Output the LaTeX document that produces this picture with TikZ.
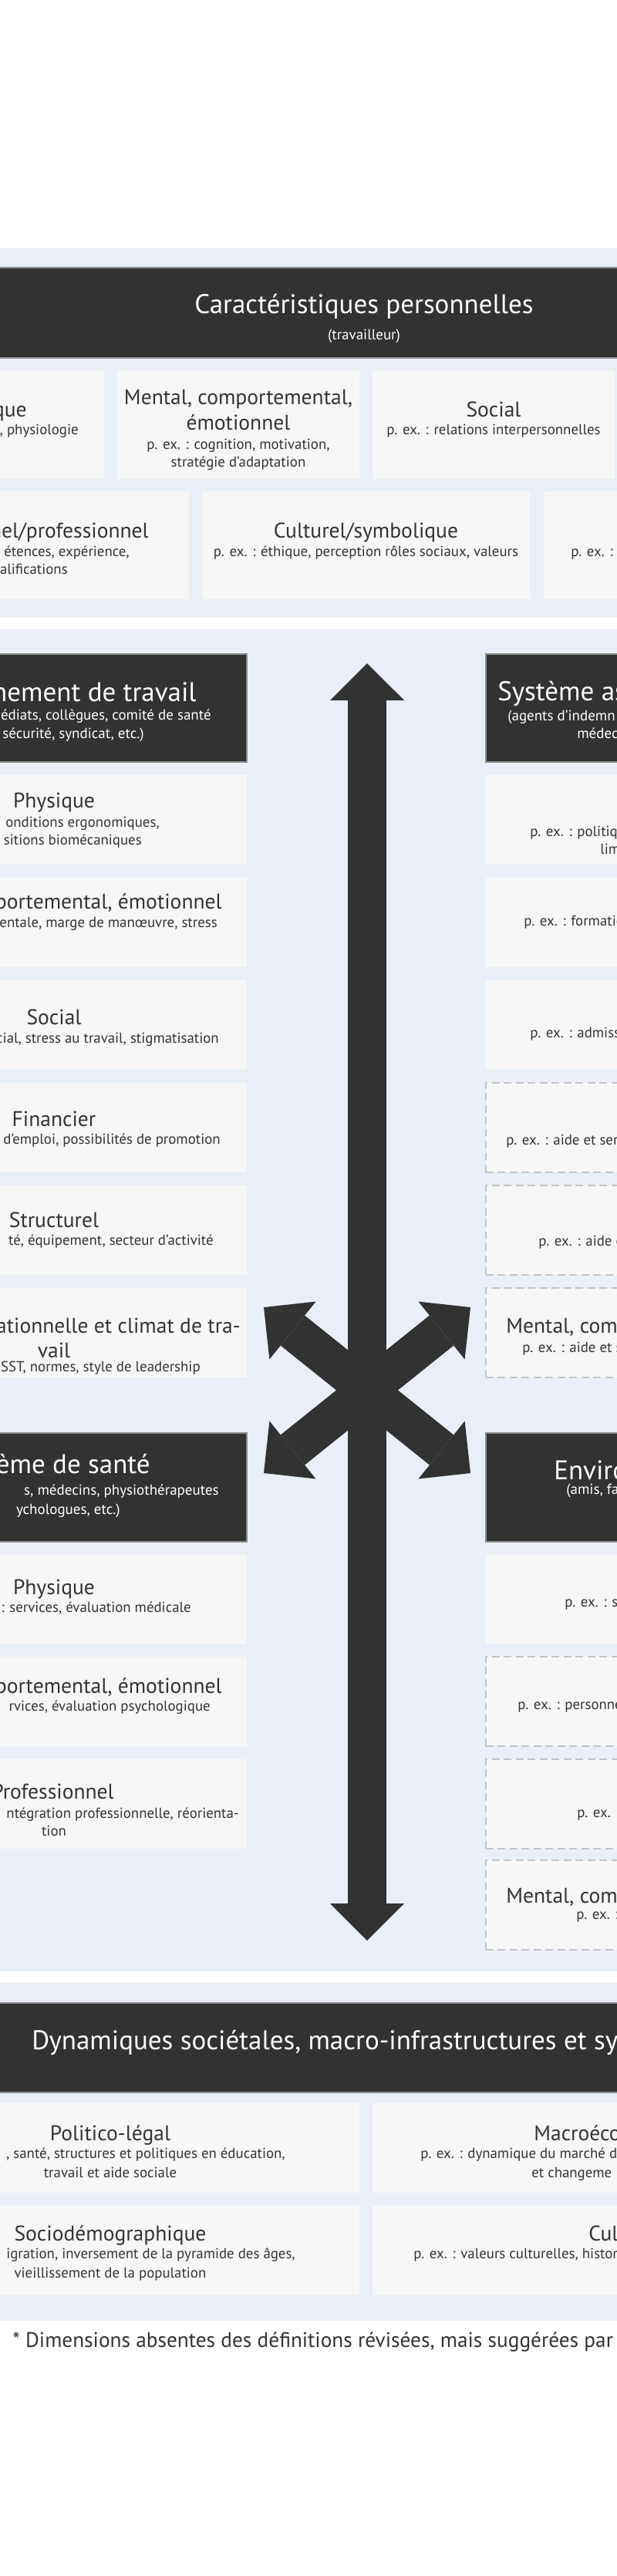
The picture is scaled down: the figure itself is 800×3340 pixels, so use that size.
\documentclass[tikz,border=0pt]{standalone}
\usepackage{fontspec}
\setmainfont{PT Sans}
\usetikzlibrary{arrows.meta}
\newlength{\pxu}\setlength{\pxu}{0.025cm}
\definecolor{panelbg}{HTML}{E9EEF7}
\definecolor{boxbg}{HTML}{F7F7F7}
\definecolor{headbg}{HTML}{323232}
\definecolor{inkgray}{HTML}{333333}
\definecolor{dashgray}{HTML}{C4C4C4}
\tikzstyle{panel}=[fill=panelbg]
\tikzstyle{dimbox}=[fill=boxbg,inner sep=0pt,outer sep=0pt]
\tikzstyle{headbox}=[fill=headbg,draw=black!45,line width=0.8pt,inner sep=0pt]
\tikzstyle{newdim}=[draw=dashgray,line width=1.1pt,dash pattern=on 7pt off 4pt]
\tikzstyle{topbox}=[dimbox,minimum width=314\pxu,minimum height=141\pxu]
\tikzstyle{midbox}=[dimbox,minimum width=425\pxu,minimum height=140\pxu]
\tikzstyle{colbox}=[dimbox,minimum width=500\pxu,minimum height=116\pxu]
\tikzstyle{colhead}=[headbox,minimum width=500\pxu,minimum height=140\pxu]
\tikzstyle{socbox}=[dimbox,minimum width=646\pxu,minimum height=116\pxu]
\tikzstyle{htl}=[text=white,inner sep=0pt,font=\fontsize{24.9}{30}\selectfont]
\tikzstyle{hsub}=[text=white,inner sep=0pt,font=\fontsize{13.5}{17}\selectfont]
\tikzstyle{ttl}=[text=inkgray,inner sep=0pt,font=\fontsize{19.6}{23.5}\selectfont]
\tikzstyle{txt}=[text=inkgray,inner sep=0pt,font=\fontsize{13.4}{16.7}\selectfont]
\tikzstyle{mainarrow}=[draw=headbg,line width=35.57pt,
  {Triangle[length=34.14pt,width=68.29pt,line width=0pt]}-{Triangle[length=34.14pt,width=68.29pt,line width=0pt]}]

\begin{document}
\begin{tikzpicture}[x=0.025cm,y=-0.025cm]
\clip (0,0) rectangle (800,3340);
\fill[white] (0,0) rectangle (800,3340);

% background bands
\fill[panel] (-10,322) rectangle (810,800);
\fill[panel] (-10,816) rectangle (810,2556);
\fill[panel] (-10,2571) rectangle (810,3009);

% personal characteristics
\node[headbox,minimum width=820\pxu,minimum height=117\pxu] (pers) at (400,405.5) {};
\node[htl,anchor=base] (perst) at (472,406) {Caractéristiques personnelles};
\node[hsub,anchor=base] (perss) at (472,440) {(travailleur)};

\node[topbox] (pc1) at (-22,550.5) {};
\node[topbox] (pc2) at (309,550.5) {};
\node[topbox] (pc3) at (640,550.5) {};
\node[ttl,anchor=base east] (pc1a) at (35,540) {que};
\node[txt,anchor=base east] (pc1b) at (102,563) {, physiologie};
\node[ttl,anchor=base] (pc2a) at (309,524) {Mental, comportemental,};
\node[ttl,anchor=base] (pc2b) at (309,557) {émotionnel};
\node[txt,anchor=base] (pc2c) at (309,582) {p. ex. : cognition, motivation,};
\node[txt,anchor=base] (pc2d) at (309,605) {stratégie d’adaptation};
\node[ttl,anchor=base] (pc3a) at (640,540) {Social};
\node[txt,anchor=base] (pc3b) at (640,563) {p. ex. : relations interpersonnelles};

\node[midbox] (pd1) at (32.5,707) {};
\node[midbox] (pd2) at (474.5,707) {};
\node[midbox] (pd3) at (917.5,707) {};
\node[ttl,anchor=base east] (pd1a) at (193,697) {nel/professionnel};
\node[txt,anchor=base east] (pd1b) at (168,721) {étences, expérience,};
\node[txt,anchor=base east] (pd1c) at (88,744) {alifications};
\node[ttl,anchor=base] (pd2a) at (474.5,697) {Culturel/symbolique};
\node[txt,anchor=base] (pd2b) at (474.5,721) {p. ex. : éthique, perception rôles sociaux, valeurs};
\node[txt,anchor=base west] (pd3a) at (740,721) {p. ex. : r};

% work environment (left)
\node[colhead] (wk) at (70,918) {};
\node[htl,anchor=base east] (wkt) at (255,909) {nement de travail};
\node[hsub,anchor=base east] (wks1) at (274,933) {édiats, collègues, comité de santé};
\node[hsub,anchor=base east] (wks2) at (187,957) {sécurité, syndicat, etc.)};

\node[colbox] (wk1) at (70,1063) {};
\node[colbox] (wk2) at (70,1196) {};
\node[colbox] (wk3) at (70,1329) {};
\node[colbox] (wk4) at (70,1462) {};
\node[colbox] (wk5) at (70,1595) {};
\node[colbox] (wk6) at (70,1728) {};
\node[ttl,anchor=base] (wk1a) at (70,1047) {Physique};
\node[txt,anchor=base east] (wk1b) at (207,1072) {onditions ergonomiques,};
\node[txt,anchor=base east] (wk1c) at (184,1095) {sitions biomécaniques};
\node[ttl,anchor=base east] (wk2a) at (288,1178) {portemental, émotionnel};
\node[txt,anchor=base east] (wk2b) at (282,1202) {entale, marge de manœuvre, stress};
\node[ttl,anchor=base] (wk3a) at (70,1328) {Social};
\node[txt,anchor=base east] (wk3b) at (284,1352) {cial, stress au travail, stigmatisation};
\node[ttl,anchor=base] (wk4a) at (70,1460) {Financier};
\node[txt,anchor=base east] (wk4b) at (286,1483) {d’emploi, possibilités de promotion};
\node[ttl,anchor=base] (wk5a) at (70,1591) {Structurel};
\node[txt,anchor=base east] (wk5b) at (277,1614) {té, équipement, secteur d’activité};
\node[ttl,anchor=base east] (wk6a) at (312,1728) {sationnelle et climat de tra-};
\node[ttl,anchor=base] (wk6b) at (70,1760) {vail};
\node[txt,anchor=base east] (wk6c) at (260,1778) {SST, normes, style de leadership};

% health care system (left)
\node[colhead,minimum height=141\pxu] (hs) at (70,1928.5) {};
\node[htl,anchor=base east] (hst) at (195,1910) {ème de santé};
\node[hsub,anchor=base east] (hss1) at (284,1938) {s, médecins, physiothérapeutes};
\node[hsub,anchor=base east] (hss2) at (156,1963) {ychologues, etc.)};

\node[colbox] (hs1) at (70,2073) {};
\node[colbox] (hs2) at (70,2206) {};
\node[colbox] (hs3) at (70,2339) {};
\node[ttl,anchor=base] (hs1a) at (70,2067) {Physique};
\node[txt,anchor=base east] (hs1b) at (248,2090) {: services, évaluation médicale};
\node[ttl,anchor=base east] (hs2a) at (288,2195) {portemental, émotionnel};
\node[txt,anchor=base east] (hs2b) at (273,2218) {rvices, évaluation psychologique};
\node[ttl,anchor=base east] (hs3a) at (148,2332) {Professionnel};
\node[txt,anchor=base east] (hs3b) at (310,2357) {ntégration professionnelle, réorienta-};
\node[txt,anchor=base] (hs3c) at (70,2380) {tion};

% insurance system (right)
\node[colhead] (ins) at (880,918) {};
\node[htl,anchor=base west] (inst) at (645,908.6) {Système as};
\node[hsub,anchor=base west] (inss1) at (658,934) {(agents d’indemn};
\node[hsub,anchor=base west] (inss2) at (748,957.5) {médec};

\node[colbox] (ins1) at (880,1063) {};
\node[colbox] (ins2) at (880,1196) {};
\node[colbox] (ins3) at (880,1329) {};
\node[colbox,newdim] (ins4) at (880,1462) {};
\node[colbox,newdim] (ins5) at (880,1595) {};
\node[colbox,newdim] (ins6) at (880,1728) {};
\node[txt,anchor=base west] (ins1a) at (687,1084) {p. ex. : politiqu};
\node[txt,anchor=base west] (ins1b) at (778,1107.5) {lim};
\node[txt,anchor=base west] (ins2a) at (679,1200) {p. ex. : formatio};
\node[txt,anchor=base west] (ins3a) at (687,1345) {p. ex. : admiss};
\node[txt,anchor=base west] (ins4a) at (656,1484) {p. ex. : aide et serv};
\node[txt,anchor=base west] (ins5a) at (698,1615) {p. ex. : aide e};
\node[ttl,anchor=base west] (ins6a) at (656,1728) {Mental, com};
\node[txt,anchor=base west] (ins6b) at (677,1753) {p. ex. : aide et s};

% personal environment (right)
\node[colhead,minimum height=141\pxu] (env) at (880,1928.5) {};
\node[htl,anchor=base west] (envt) at (718,1918) {Enviro};
\node[hsub,anchor=base west] (envs) at (734,1937) {(amis, fa};

\node[colbox] (env1) at (880,2073) {};
\node[colbox,newdim] (env2) at (880,2206) {};
\node[colbox,newdim] (env3) at (880,2339) {};
\node[colbox,newdim] (env4) at (880,2470) {};
\node[txt,anchor=base west] (env1a) at (732,2083) {p. ex. : so};
\node[txt,anchor=base west] (env2a) at (671,2216) {p. ex. : personne};
\node[txt,anchor=base west] (env3a) at (748,2356) {p. ex. :};
\node[ttl,anchor=base west] (env4a) at (656,2467) {Mental, com};
\node[txt,anchor=base west] (env4b) at (747,2488) {p. ex. :};

% arrows between the systems
\coordinate (up) at (476,860);
\coordinate (down) at (476,2516);
\coordinate (ul) at (342,1695);
\coordinate (ur) at (610,1695);
\coordinate (ll) at (342,1910);
\coordinate (lr) at (610,1910);
\draw[mainarrow] (up) -- (down);
\draw[mainarrow] (ul) -- (lr);
\draw[mainarrow] (ur) -- (ll);

% societal dynamics
\node[headbox,minimum width=820\pxu,minimum height=116\pxu] (soc) at (400,2655) {};
\node[htl,anchor=base west] (soct) at (41,2657) {Dynamiques sociétales, macro-infrastructures et sy};

\node[socbox] (soc1) at (143,2785) {};
\node[socbox] (soc2) at (806,2785) {};
\node[socbox] (soc3) at (143,2918) {};
\node[socbox] (soc4) at (806,2918) {};
\node[ttl,anchor=base] (soc1a) at (143,2775) {Politico-légal};
\node[txt,anchor=base east] (soc1b) at (370,2798) {, santé, structures et politiques en éducation,};
\node[txt,anchor=base] (soc1c) at (143,2823) {travail et aide sociale};
\node[ttl,anchor=base west] (soc2a) at (692,2775) {Macroéco};
\node[txt,anchor=base west] (soc2b) at (545,2798) {p. ex. : dynamique du marché d};
\node[txt,anchor=base west] (soc2c) at (689,2823) {et changeme};
\node[ttl,anchor=base] (soc3a) at (143,2905) {Sociodémographique};
\node[txt,anchor=base east] (soc3b) at (383,2928) {igration, inversement de la pyramide des âges,};
\node[txt,anchor=base] (soc3c) at (143,2953) {vieillissement de la population};
\node[ttl,anchor=base west] (soc4a) at (763,2905) {Cul};
\node[txt,anchor=base west] (soc4b) at (536,2928) {p. ex. : valeurs culturelles, histori};

\node[text=inkgray,inner sep=0pt,font=\fontsize{19.4}{23}\selectfont,anchor=base west] (note) at (16,3043)
  {* Dimensions absentes des définitions révisées, mais suggérées par};
\end{tikzpicture}
\end{document}
